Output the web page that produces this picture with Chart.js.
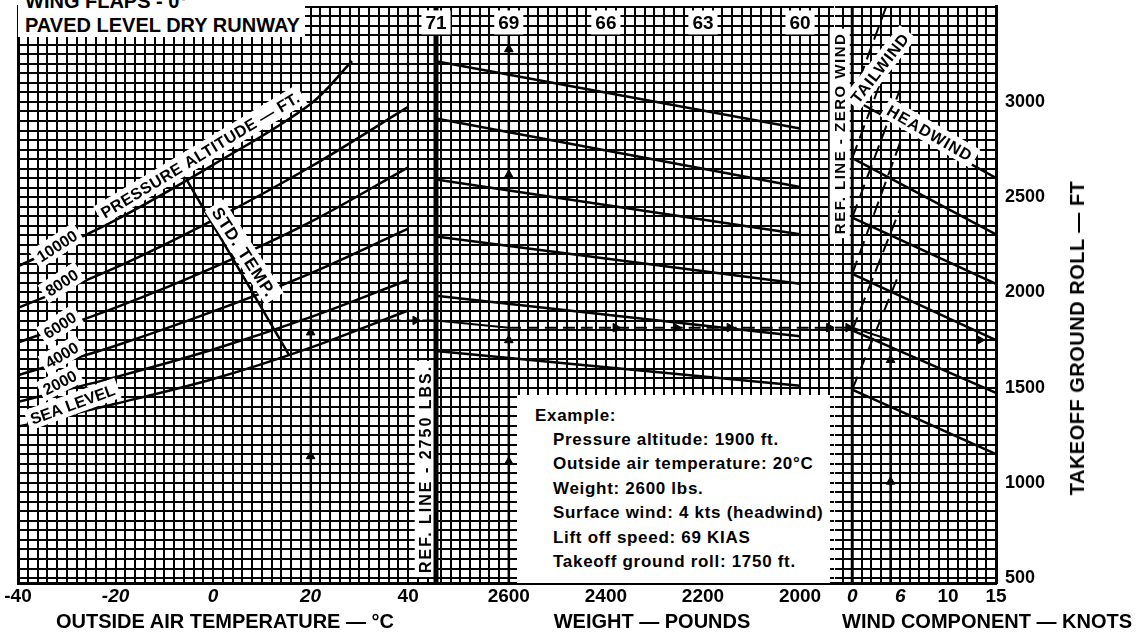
<!DOCTYPE html>
<html>
<head>
<meta charset="utf-8">
<title>Takeoff ground roll — wing flaps 0°</title>
<script src="https://cdn.jsdelivr.net/npm/chart.js@4.4.1/dist/chart.umd.min.js"></script>
<style>
  html, body { margin: 0; padding: 0; background: #fff; }
  #wrap { position: relative; width: 1138px; height: 633px; overflow: hidden; background: #fff;
          font-family: "Liberation Sans", Arial, sans-serif; font-weight: bold; color: #000; }
  canvas { position: absolute; top: 0; }
  #cA { left: 0; }
  #cB { left: 420px; }
  #cC { left: 820px; }
  #flaps { position: absolute; left: 18px; top: 0; width: 287px; height: 37px; background: #fff; overflow: hidden; }
  #flaps div { position: relative; top: -11px; left: 7px; font-size: 20px; line-height: 24px; white-space: nowrap; }
  #example { position: absolute; left: 517px; top: 395px; width: 313px; height: 188px; background: #fff;
             font-size: 17px; letter-spacing: 0.7px; line-height: 24.4px; white-space: nowrap; }
  #example .hd { position: absolute; left: 18px; top: 9px; }
  #example .items { position: absolute; left: 36px; top: 33px; }
  .xtitle { position: absolute; top: 611px; font-size: 20px; line-height: 20px; white-space: nowrap; transform: translateX(-50%); }
  #ytitle { position: absolute; left: 1077px; top: 338px; font-size: 20px; line-height: 20px; white-space: nowrap;
            letter-spacing: 0.5px; transform: translate(-50%, -50%) rotate(-90deg); }
</style>
</head>
<body>
<div id="wrap">
  <canvas id="cA" width="440" height="633"></canvas>
  <canvas id="cB" width="420" height="633"></canvas>
  <canvas id="cC" width="318" height="633"></canvas>

  <div id="flaps"><div>WING FLAPS - 0°<br>PAVED LEVEL DRY RUNWAY</div></div>

  <div id="example">
    <div class="hd">Example:</div>
    <div class="items">
      Pressure altitude: 1900 ft.<br>
      Outside air temperature: 20°C<br>
      Weight: 2600 lbs.<br>
      Surface wind: 4 kts (headwind)<br>
      Lift off speed: 69 KIAS<br>
      Takeoff ground roll: 1750 ft.
    </div>
  </div>

  <div class="xtitle" style="left:225px">OUTSIDE AIR TEMPERATURE — °C</div>
  <div class="xtitle" style="left:652px">WEIGHT — POUNDS</div>
  <div class="xtitle" style="left:987px">WIND COMPONENT — KNOTS</div>
  <div id="ytitle">TAKEOFF GROUND ROLL — FT</div>
</div>

<script>
/* ── Shared vertical scale: takeoff ground roll (ft) ── */
const rollMin   = 474;
const rollMax   = 3504;
const rollTicks = [500, 1000, 1500, 2000, 2500, 3000];

/* ── Left panel: outside air temperature vs pressure altitude ── */
const tempMin      = -40;
const tempMax      = 45.3;          // 2750 lbs reference line
const tempTicks    = [-40, -20, 0, 20, 40];
const tempItalic   = [-20, 0, 20];
const altTemps     = [-40, -20, 0, 20, 40];
const altSeaLevel  = [1295, 1415, 1545, 1710, 1905];
const alt2000      = [1425, 1555, 1700, 1870, 2065];
const alt4000      = [1565, 1720, 1900, 2100, 2335];
const alt6000      = [1737, 1920, 2130, 2370, 2657];
const alt8000      = [1919, 2130, 2380, 2660, 2974];
const alt10000T    = [-40, -20, 0, 20, 28.5];
const alt10000     = [2137, 2380, 2670, 2990, 3214];
const stdTempT     = [-5.5, 15.5];
const stdTempRoll  = [2595, 1675];

/* ── Middle panel: weight ── */
const weightMin    = 1930;
const weightMax    = 2750;
const weightTicks  = [2600, 2400, 2200, 2000];
const speedWeights = [2750, 2600, 2400, 2200, 2000];
const speedLabels  = ['71', '69', '66', '63', '60'];
const guideWeights = [2750, 2000];
const guideStart   = [3214, 2913, 2593, 2294, 1983, 1692];
const guideEnd     = [2861, 2554, 2305, 2045, 1770, 1510];

/* ── Right panel: wind component ── */
const windMin        = -1.8;
const windMax        = 15;
const windTicks      = [0, 5, 10, 15];
const windTickLabels = ['0', '6', '10', '15'];
const windItalic     = [0, 5];
const headWinds      = [0, 15];
const headStart      = [3017, 2705, 2393, 2097, 1801, 1489];
const headEnd        = [2601, 2305, 2045, 1749, 1473, 1151];
const tailWinds      = [0, 5];
const tailEnd        = [3700, 3380, 3069, 2788, 2440, 2112];

/* ── Worked example ── */
const exTemp       = 20;
const exRefRoll    = 1853;   // at 2750 lbs reference line
const exWeight     = 2600;
const exWeightRoll = 1815;   // at zero wind reference line
const exWind       = 4;
const exGroundRoll = 1750;
const exUpA        = [1140, 1790];
const exRightA     = [41.5];
const exUpB        = [1110, 1749, 2617, 3277];
const exRightB     = [2380, 2255, 2145, 1940];
const exUpC        = [1006, 1645];
const exRightC     = [-0.4, 13.3];

const FONT = '"Liberation Sans", Arial, sans-serif';
Chart.defaults.font.family = FONT;
Chart.defaults.font.weight = 'bold';
Chart.defaults.color = '#000';

/* ── helpers ── */
const pts = (xs, ys) => xs.map((x, i) => ({ x, y: ys[i] }));

function line(data, extra) {
  return Object.assign({
    type: 'line', data, borderColor: '#000', borderWidth: 2.5,
    pointRadius: 0, tension: 0.35, fill: false
  }, extra || {});
}

function arrows(data, rotation) {
  return {
    type: 'scatter', data, pointStyle: 'triangle', pointRadius: 5,
    rotation, backgroundColor: '#000', borderColor: '#000', borderWidth: 1
  };
}

function stepTicks(step) {
  return axis => {
    const out = [];
    for (let v = Math.ceil(axis.min / step - 1e-9) * step; v <= axis.max + 1e-9; v += step) {
      out.push({ value: Math.round(v * 1000) / 1000 });
    }
    axis.ticks = out;
  };
}

const GRID = { color: '#000', lineWidth: 2, drawTicks: false };

function xAxis(min, max, step, showAt, texts, italic, reverse) {
  return {
    type: 'linear', min, max, reverse: !!reverse, position: 'bottom',
    afterBuildTicks: stepTicks(step),
    afterFit: s => { s.height = 50; s.paddingLeft = 0; s.paddingRight = 0; },
    grid: GRID,
    border: { display: true, color: '#000', width: 3 },
    ticks: {
      autoSkip: false, maxRotation: 0, padding: 2, color: '#000',
      font: c => ({ family: FONT, size: 19, weight: 'bold',
                    style: c.tick && italic.includes(c.tick.value) ? 'italic' : 'normal' }),
      callback: v => { const i = showAt.indexOf(v); return i < 0 ? '' : texts[i]; }
    }
  };
}

function yAxis(position, width, showLabels, border) {
  return {
    type: 'linear', min: rollMin, max: rollMax, position,
    afterBuildTicks: stepTicks(50),
    afterFit: s => { s.width = width; s.paddingTop = 0; s.paddingBottom = 0; },
    grid: GRID,
    border: { display: border, color: '#000', width: 3 },
    ticks: {
      display: showLabels, autoSkip: false, padding: 9, color: '#000',
      font: { family: FONT, size: 18, weight: 'bold' },
      callback: v => rollTicks.includes(v) ? String(v) : ''
    }
  };
}

/* ── Rotated text labels with white backing, placed through the scales ── */
const textLabels = {
  id: 'textLabels',
  afterDatasetsDraw(chart, args, opts) {
    const { ctx } = chart;
    const xs = chart.scales.x, ys = chart.scales.y;
    (opts.items || []).forEach(it => {
      const px = xs.getPixelForValue(it.x);
      const py = ys.getPixelForValue(it.y);
      ctx.save();
      ctx.translate(px, py);
      ctx.rotate(it.angle * Math.PI / 180);
      ctx.font = `bold ${it.size}px ${FONT}`;
      ctx.letterSpacing = (it.spacing || 0) + 'px';
      const w = ctx.measureText(it.text).width;
      ctx.fillStyle = '#fff';
      ctx.fillRect(-w / 2 - 4, -it.size / 2 - 3, w + 8, it.size + 5);
      ctx.fillStyle = '#000';
      ctx.textAlign = 'center';
      ctx.textBaseline = 'middle';
      ctx.fillText(it.text, 0, 1);
      ctx.restore();
    });
  }
};

const baseOpts = (padding) => ({
  responsive: false, animation: false, devicePixelRatio: 1, events: [],
  layout: { padding },
  plugins: { legend: { display: false }, tooltip: { enabled: false } }
});

/* ════════ Left panel ════════ */
const optsA = baseOpts({ left: 18, right: 4, top: 0, bottom: 0 });
optsA.scales = {
  x: xAxis(tempMin, tempMax, 2, tempTicks, tempTicks.map(String), tempItalic),
  y: yAxis('left', 0, false, true)
};
optsA.plugins.textLabels = { items: [
  { text: 'PRESSURE ALTITUDE — FT.', x: -2.6, y: 2721, angle: -31, size: 16, spacing: 0.5 },
  { text: '10000',     x: -32,   y: 2243, angle: -33, size: 16 },
  { text: '8000',      x: -31,   y: 2050, angle: -33, size: 16 },
  { text: '6000',      x: -31.4, y: 1827, angle: -33, size: 16 },
  { text: '4000',      x: -31,   y: 1671, angle: -30, size: 16 },
  { text: '2000',      x: -31.4, y: 1526, angle: -27, size: 16 },
  { text: 'SEA LEVEL', x: -28.8, y: 1411, angle: -20, size: 16 },
  { text: 'STD. TEMP.', x: 6.3,  y: 2211, angle: 57,  size: 17, spacing: 1 },
  { text: 'REF. LINE - 2750 LBS.', x: 43.6, y: 1073, angle: -90, size: 16, spacing: 2 }
] };

new Chart(document.getElementById('cA'), {
  data: { datasets: [
    line(pts(altTemps, altSeaLevel)),
    line(pts(altTemps, alt2000)),
    line(pts(altTemps, alt4000)),
    line(pts(altTemps, alt6000)),
    line(pts(altTemps, alt8000)),
    line(pts(alt10000T, alt10000)),
    line(pts(stdTempT, stdTempRoll)),
    line(pts([exTemp, exTemp], [rollMin, exRefRoll]), { borderWidth: 2 }),
    line(pts([exTemp, tempMax], [exRefRoll, exRefRoll]), { borderWidth: 2, borderDash: [10, 6] }),
    arrows(exUpA.map(y => ({ x: exTemp, y })), 0),
    arrows(exRightA.map(x => ({ x, y: exRefRoll })), 90)
  ] },
  options: optsA,
  plugins: [textLabels]
});

/* ════════ Middle panel ════════ */
const optsB = baseOpts({ left: 16, right: 5, top: 0, bottom: 0 });
optsB.scales = {
  x: xAxis(weightMin, weightMax, 20, weightTicks, weightTicks.map(String), [], true),
  y: yAxis('left', 0, false, false)
};
optsB.plugins.textLabels = { items: speedWeights.map((w, i) => (
  { text: speedLabels[i], x: w, y: 3415, angle: 0, size: 19 }
)) };

new Chart(document.getElementById('cB'), {
  data: { datasets: [
    line(pts([weightMax, weightMax], [rollMin, rollMax]), { borderWidth: 5, clip: false }),
    ...guideStart.map((s, i) => line(pts(guideWeights, [s, guideEnd[i]]), { tension: 0 })),
    line(pts([exWeight, exWeight], [rollMin, rollMax]), { borderWidth: 2.5 }),
    line(pts([weightMax, exWeight], [exRefRoll, exWeightRoll]), { borderWidth: 2, tension: 0 }),
    line(pts([exWeight, weightMin], [exWeightRoll, exWeightRoll]), { borderWidth: 2, borderDash: [12, 6] }),
    arrows(exUpB.map(y => ({ x: exWeight, y })), 0),
    arrows(exRightB.map(x => ({ x, y: exWeightRoll })), 90)
  ] },
  options: optsB,
  plugins: [textLabels]
});

/* ════════ Right panel ════════ */
const optsC = baseOpts({ left: 15, right: 0, top: 0, bottom: 0 });
optsC.scales = {
  x: xAxis(windMin, windMax, 1, windTicks, windTickLabels, windItalic),
  y: yAxis('right', 142, true, true)
};
optsC.plugins.textLabels = { items: [
  { text: 'REF. LINE - ZERO WIND', x: -1.25, y: 2835, angle: -90, size: 15, spacing: 1.5 },
  { text: 'TAILWIND', x: 2.9, y: 3178, angle: -52, size: 16, spacing: 1 },
  { text: 'HEADWIND', x: 8.1, y: 2835, angle: 30, size: 16, spacing: 1 }
] };

new Chart(document.getElementById('cC'), {
  data: { datasets: [
    line(pts([0, 0], [rollMin, rollMax]), { borderWidth: 3, clip: false }),
    ...headStart.map((s, i) => line(pts(headWinds, [s, headEnd[i]]), { tension: 0 })),
    ...headStart.map((s, i) => line(pts(tailWinds, [s, tailEnd[i]]), { tension: 0, borderWidth: 2, borderDash: [14, 7] })),
    line(pts([windMin, 0], [exWeightRoll, exWeightRoll]), { borderWidth: 2, borderDash: [12, 6] }),
    line(pts([0, exWind], [exWeightRoll, exGroundRoll]), { borderWidth: 2, tension: 0 }),
    line(pts([exWind, exWind], [rollMin, exGroundRoll]), { borderWidth: 2.5 }),
    line(pts([exWind, windMax], [exGroundRoll, exGroundRoll]), { borderWidth: 2, borderDash: [12, 6] }),
    arrows(exUpC.map(y => ({ x: exWind, y })), 0),
    arrows([{ x: exRightC[0], y: exWeightRoll }, { x: exRightC[1], y: exGroundRoll }], 90)
  ] },
  options: optsC,
  plugins: [textLabels]
});
</script>
</body>
</html>
